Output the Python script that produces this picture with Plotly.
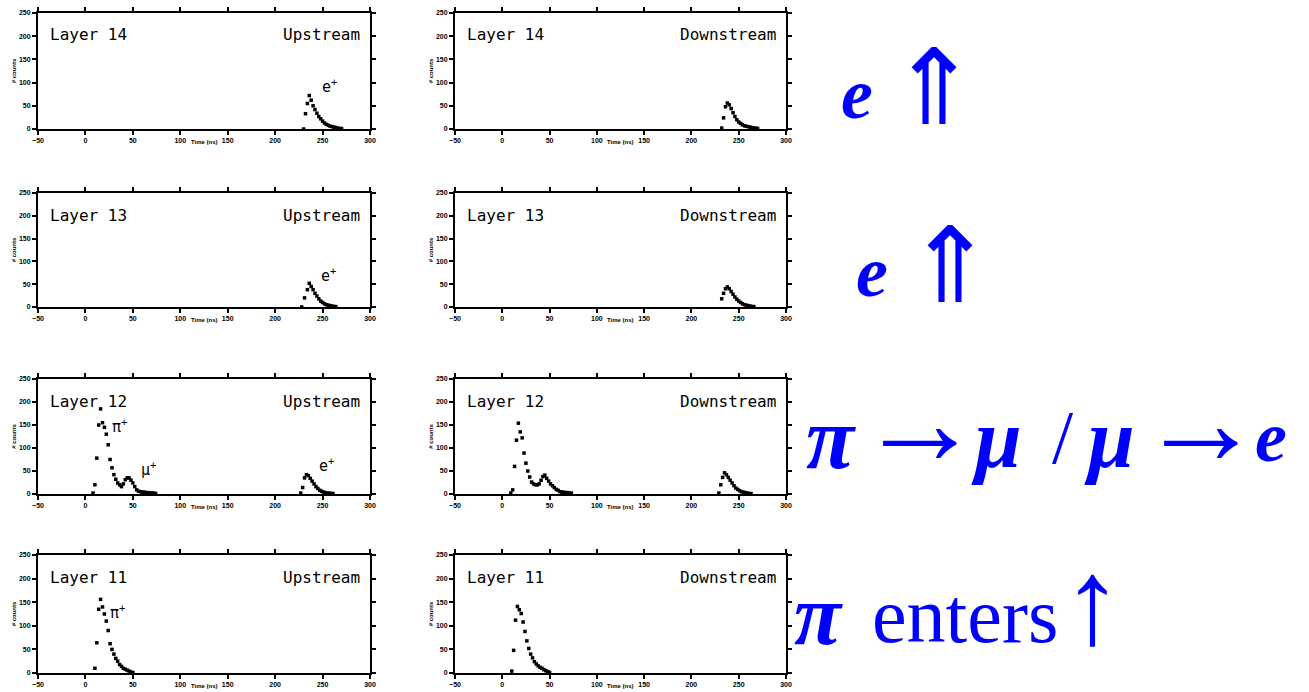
import plotly.graph_objects as go

# ---------------- data (time in ns, counts) ----------------
l14_up_e_t = [230, 232, 234, 236, 238, 240, 242, 244, 246, 248, 250, 252, 254, 256, 258, 260, 262, 264, 266, 268, 270]
l14_up_e_n = [0, 33, 55, 72, 62, 50, 42, 34, 27, 22, 17, 13, 10, 8, 6, 5, 4, 3, 2, 1, 1]

l14_dn_e_t = [232, 234, 236, 238, 240, 242, 244, 246, 248, 250, 252, 254, 256, 258, 260, 262, 264, 266, 268, 270]
l14_dn_e_n = [2, 24, 48, 56, 52, 44, 35, 27, 20, 15, 12, 9, 7, 6, 5, 4, 3, 2, 2, 1]

l13_up_e_t = [228, 231, 234, 236, 238, 240, 242, 244, 246, 248, 250, 252, 254, 256, 258, 260, 262, 264]
l13_up_e_n = [0, 20, 38, 52, 45, 38, 30, 24, 18, 13, 10, 7, 5, 4, 3, 2, 1, 1]

l13_dn_e_t = [232, 234, 236, 238, 240, 242, 244, 246, 248, 250, 252, 254, 256, 258, 260, 262, 264, 266]
l13_dn_e_n = [18, 30, 40, 44, 40, 34, 28, 22, 17, 13, 10, 7, 5, 4, 3, 2, 1, 1]

l12_up_pi_t = [8, 10, 12, 14, 16, 18, 20, 22, 24, 26, 28, 30, 32, 34, 36, 38, 40, 42, 44, 46, 48,
               50, 52, 54, 56, 58, 60, 62, 64, 66, 68, 70, 72, 74]
l12_up_pi_n = [2, 20, 78, 150, 185, 155, 145, 130, 107, 75, 57, 42, 32, 24, 20, 16, 22, 31, 35, 35, 30,
               24, 16, 9, 6, 5, 4, 4, 3, 3, 2, 2, 2, 1]
l12_up_e_t = [227, 229, 231, 233, 235, 237, 239, 241, 243, 245, 247, 249, 251, 253, 255, 257, 259, 261]
l12_up_e_n = [2, 14, 35, 42, 40, 34, 28, 22, 16, 12, 8, 6, 4, 3, 2, 2, 1, 1]

l12_dn_pi_t = [9, 11, 13, 15, 17, 19, 21, 23, 25, 27, 29, 31, 33, 35, 37, 39, 41, 43, 45, 47, 49,
               51, 53, 55, 57, 59, 61, 63, 65, 67, 69, 71, 73]
l12_dn_pi_n = [2, 9, 60, 117, 154, 135, 122, 89, 67, 50, 37, 26, 22, 20, 20, 22, 30, 38, 41, 34, 28,
               22, 18, 14, 10, 8, 5, 4, 4, 3, 3, 2, 2]
l12_dn_e_t = [229, 231, 233, 235, 237, 239, 241, 243, 245, 247, 249, 251, 253, 255, 257, 259, 261, 263]
l12_dn_e_n = [2, 20, 36, 46, 42, 36, 30, 24, 18, 13, 10, 7, 5, 4, 3, 2, 1, 1]

l11_up_pi_t = [10, 12, 14, 16, 18, 20, 22, 24, 26, 28, 30, 32, 34, 36, 38, 40, 42, 44, 46, 48, 50]
l11_up_pi_n = [10, 64, 135, 156, 140, 125, 110, 90, 62, 50, 40, 31, 25, 18, 14, 10, 8, 6, 4, 2, 1]

l11_dn_pi_t = [10, 12, 14, 16, 18, 20, 22, 24, 26, 28, 30, 32, 34, 36, 38, 40, 42, 44, 46, 48, 50]
l11_dn_pi_n = [4, 48, 112, 141, 134, 126, 108, 88, 68, 52, 40, 32, 24, 19, 15, 12, 10, 7, 5, 3, 1]

layers = ["Layer 14", "Layer 13", "Layer 12", "Layer 11"]
sides = ["Upstream", "Downstream"]
x_ticks = [-50, 0, 50, 100, 150, 200, 250, 300]
y_ticks = [0, 50, 100, 150, 200, 250]
x_title = "Time (ns)"
y_title = "# counts"

panel_series = [
    [[(l14_up_e_t, l14_up_e_n)], [(l14_dn_e_t, l14_dn_e_n)]],
    [[(l13_up_e_t, l13_up_e_n)], [(l13_dn_e_t, l13_dn_e_n)]],
    [[(l12_up_pi_t, l12_up_pi_n), (l12_up_e_t, l12_up_e_n)], [(l12_dn_pi_t, l12_dn_pi_n), (l12_dn_e_t, l12_dn_e_n)]],
    [[(l11_up_pi_t, l11_up_pi_n)], [(l11_dn_pi_t, l11_dn_pi_n)]],
]

# particle labels: (row, col, text, t, n)
particle_labels = [
    (0, 0, "e<sup>+</sup>", 257, 92),
    (1, 0, "e<sup>+</sup>", 256, 70),
    (2, 0, "π<sup>+</sup>", 36, 148),
    (2, 0, "μ<sup>+</sup>", 66, 55),
    (2, 0, "e<sup>+</sup>", 254, 62),
    (3, 0, "π<sup>+</sup>", 34, 130),
]

# side notes: (text, left px, center px, font size)
side_notes = [
    ("<b><i>e</i></b>", 839, 94, 72),
    ("⇑", 888, 88, 105),
    ("<b><i>e</i></b>", 854, 272, 72),
    ("⇑", 904, 266, 105),
    ("<b><i>π</i></b>", 804, 438, 88),
    ("→", 856, 422, 124),
    ("<b><i>μ</i></b>", 969, 439, 84),
    ("/", 1050, 437, 76),
    ("<b><i>μ</i></b>", 1082, 439, 84),
    ("→", 1137, 422, 124),
    ("<b><i>e</i></b>", 1253, 437, 72),
    ("<b><i>π</i></b>", 792, 615, 86),
    ("enters", 870, 615, 78),
    ("↑", 1060, 601, 122),
]

# ---------------- layout geometry (pixels) ----------------
W, H = 1309, 692
col_px = [(38, 370), (455, 786)]
row_px = [(13, 129), (193, 307), (379, 494), (555, 673)]


def fx(px):
    return px / W


def fy(py):
    return 1 - py / H


fig = go.Figure()
layout = dict(width=W, height=H, margin=dict(l=0, r=0, t=0, b=0, autoexpand=False),
              template="none", paper_bgcolor="white", plot_bgcolor="white", showlegend=False)
annotations = []
tickfont = dict(family="Liberation Sans", size=7, color="black", weight="bold")

idx = 0
for r in range(4):
    for c in range(2):
        idx += 1
        xa = "x" if idx == 1 else f"x{idx}"
        ya = "y" if idx == 1 else f"y{idx}"
        for (t, n) in panel_series[r][c]:
            fig.add_trace(go.Scatter(x=t, y=n, mode="markers", xaxis=xa, yaxis=ya, hoverinfo="skip",
                                     marker=dict(symbol="square", size=3.5, color="black",
                                                 line=dict(width=0))))
        x0, x1 = col_px[c]
        y0, y1 = row_px[r]
        axis_common = dict(showgrid=False, zeroline=False, showline=True, linecolor="black",
                           linewidth=2, mirror="ticks", ticks="outside", ticklen=4, tickwidth=1.5,
                           tickcolor="black", automargin=False, tickfont=tickfont)
        layout["xaxis" if idx == 1 else f"xaxis{idx}"] = dict(
            axis_common, domain=[fx(x0), fx(x1)], range=[-50, 300], tickvals=x_ticks, anchor=ya)
        layout["yaxis" if idx == 1 else f"yaxis{idx}"] = dict(
            axis_common, domain=[fy(y1), fy(y0)], range=[0, 250], tickvals=y_ticks, anchor=xa,
            title=dict(text=y_title, font=dict(size=6, family="Liberation Sans", color="black", weight="bold"),
                       standoff=2))
        annotations.append(dict(text=x_title, xref="paper", yref="paper",
                                x=fx((x0 + x1) / 2), y=fy(y1 + 13), xanchor="center", yanchor="middle",
                                showarrow=False,
                                font=dict(family="Liberation Sans", size=6, color="black", weight="bold")))
        annotations.append(dict(text=layers[r], xref="paper", yref="paper",
                                x=fx(x0 + 10), y=fy(y0 + 22), xanchor="left", yanchor="middle",
                                showarrow=False, font=dict(family="DejaVu Sans Mono", size=16, color="black")))
        annotations.append(dict(text=sides[c], xref="paper", yref="paper",
                                x=fx(x1 - 8), y=fy(y0 + 22), xanchor="right", yanchor="middle",
                                showarrow=False, font=dict(family="DejaVu Sans Mono", size=16, color="black")))

for (r, c, txt, t, n) in particle_labels:
    i = r * 2 + c + 1
    annotations.append(dict(text=txt, xref="x" if i == 1 else f"x{i}", yref="y" if i == 1 else f"y{i}",
                            x=t, y=n, showarrow=False,
                            font=dict(family="DejaVu Sans Mono", size=15, color="black")))

for (txt, px, py, fs) in side_notes:
    annotations.append(dict(text=txt, xref="paper", yref="paper", x=fx(px), y=fy(py),
                            xanchor="left", yanchor="middle", showarrow=False,
                            font=dict(family="Liberation Serif", size=fs, color="#0000ff")))

layout["annotations"] = annotations
fig.update_layout(**layout)
fig.write_html("out.html", config={"displayModeBar": False},
               post_script="document.body.style.margin='0px';")
